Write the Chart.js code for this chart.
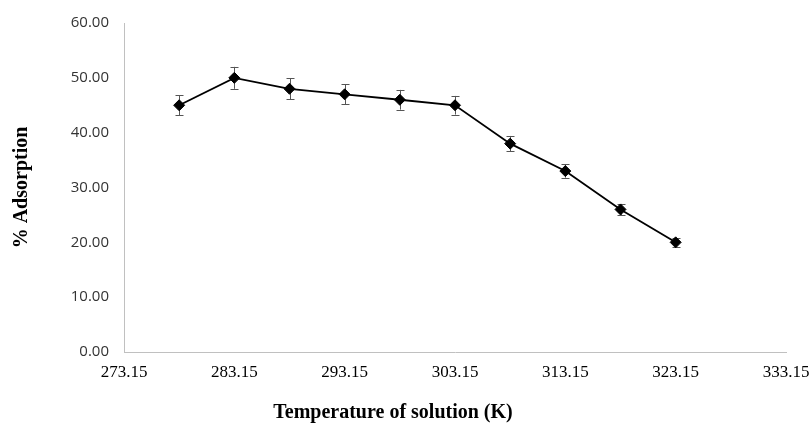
<!DOCTYPE html>
<html>
<head>
<meta charset="utf-8">
<script src="https://cdn.jsdelivr.net/npm/chart.js@4/dist/chart.umd.min.js"></script>
<style>
  html, body { margin: 0; padding: 0; background: #fff; }
  #wrap { width: 809px; height: 423px; }
</style>
</head>
<body>
<div id="wrap"><canvas id="c" width="809" height="423"></canvas></div>
<script>
// Temperature (K) of the solution and the measured % adsorption with its error
const temperatures = [278.15, 283.15, 288.15, 293.15, 298.15, 303.15, 308.15, 313.15, 318.15, 323.15];
const adsorption   = [45, 50, 48, 47, 46, 45, 38, 33, 26, 20];
const errorAmounts = [1.8, 2.0, 1.9, 1.8, 1.8, 1.7, 1.4, 1.2, 1.0, 0.8];

const xTickValues = [273.15, 283.15, 293.15, 303.15, 313.15, 323.15, 333.15];
const yTickValues = [0, 10, 20, 30, 40, 50, 60];

const points = temperatures.map((t, i) => ({ x: t, y: adsorption[i] }));

// Vertical error bars with caps, placed through the chart's scales
const errorBars = {
  id: 'errorBars',
  beforeDatasetsDraw(chart) {
    const { ctx, scales: { x, y } } = chart;
    ctx.save();
    ctx.strokeStyle = '#555555';
    ctx.lineWidth = 1;
    const cap = 4;
    temperatures.forEach((t, i) => {
      const px = Math.round(x.getPixelForValue(t)) + 0.5;
      const top = y.getPixelForValue(adsorption[i] + errorAmounts[i]);
      const bot = y.getPixelForValue(adsorption[i] - errorAmounts[i]);
      ctx.beginPath();
      ctx.moveTo(px, top); ctx.lineTo(px, bot);
      ctx.moveTo(px - cap, Math.round(top) + 0.5); ctx.lineTo(px + cap, Math.round(top) + 0.5);
      ctx.moveTo(px - cap, Math.round(bot) + 0.5); ctx.lineTo(px + cap, Math.round(bot) + 0.5);
      ctx.stroke();
    });
    ctx.restore();
  }
};

new Chart(document.getElementById('c'), {
  type: 'scatter',
  data: {
    datasets: [{
      data: points,
      showLine: true,
      borderColor: '#000',
      borderWidth: 1.8,
      backgroundColor: '#000',
      pointStyle: 'rectRot',
      pointRadius: 5.5,
      pointBorderWidth: 1,
      tension: 0
    }]
  },
  plugins: [errorBars],
  options: {
    responsive: false,
    animation: false,
    layout: { padding: { top: 23, right: 23, left: 0, bottom: 0 } },
    plugins: {
      legend: { display: false },
      tooltip: { enabled: false },
      title: {
        display: true,
        position: 'bottom',
        text: 'Temperature of solution (K)',
        color: '#000',
        font: { family: '"Liberation Serif", "Times New Roman", serif', size: 20, weight: 'bold', lineHeight: 1.0 },
        padding: { top: 0, bottom: 0 }
      }
    },
    scales: {
      x: {
        type: 'linear',
        min: xTickValues[0],
        max: xTickValues[xTickValues.length - 1],
        afterBuildTicks: s => { s.ticks = xTickValues.map(v => ({ value: v })); },
        afterFit: s => { s.height = 51; s.paddingLeft = 0; s.paddingRight = 0; },
        grid: { display: false, drawTicks: false },
        border: { display: true, color: '#c0c0c0', width: 1 },
        ticks: {
          padding: 10,
          color: '#000',
          maxRotation: 0,
          autoSkip: false,
          font: { family: '"Liberation Serif", "Times New Roman", serif', size: 17 },
          callback: v => Number(v).toFixed(2)
        }
      },
      y: {
        min: yTickValues[0],
        max: yTickValues[yTickValues.length - 1],
        afterBuildTicks: s => { s.ticks = yTickValues.map(v => ({ value: v })); },
        afterFit: s => { s.width = 124; s.paddingTop = 0; s.paddingBottom = 0; },
        grid: { display: false, drawTicks: false },
        border: { display: true, color: '#c0c0c0', width: 1 },
        ticks: {
          padding: 15,
          color: '#333',
          font: { family: '"Open Sans", sans-serif', size: 15 },
          callback: v => Number(v).toFixed(2)
        },
        title: {
          display: true,
          text: '% Adsorption',
          color: '#000',
          font: { family: '"Liberation Serif", "Times New Roman", serif', size: 20, weight: 'bold', lineHeight: 1.2 },
          padding: { top: 10, bottom: 0 }
        }
      }
    }
  }
});
</script>
</body>
</html>
